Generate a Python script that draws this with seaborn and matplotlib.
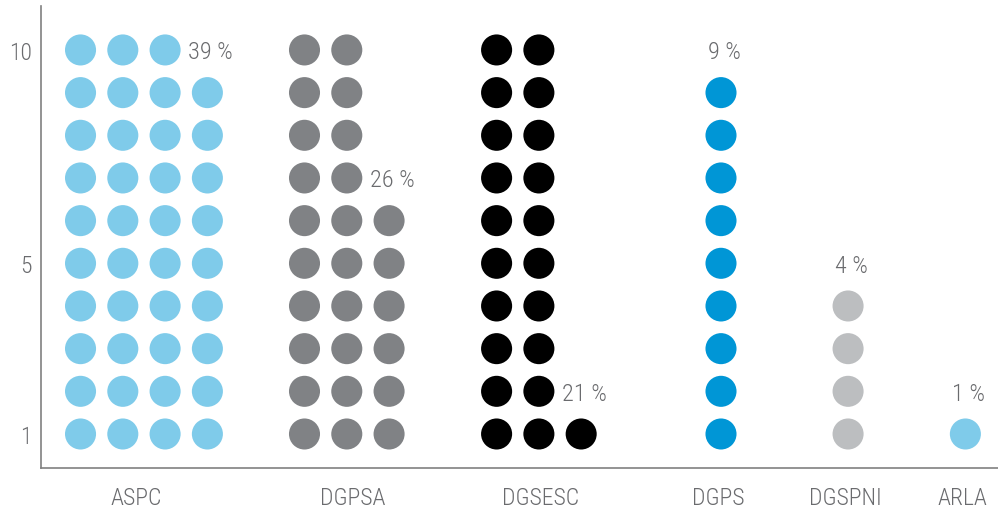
import matplotlib
matplotlib.use("Agg")
import matplotlib.pyplot as plt
import seaborn as sns
import pandas as pd

# ---- data ----
categories = ["ASPC", "DGPSA", "DGSESC", "DGPS", "DGSPNI", "ARLA"]
counts = [39, 26, 21, 9, 4, 1]
pct_labels = ["39 %", "26 %", "21 %", "9 %", "4 %", "1 %"]
y_ticks = [1, 5, 10]

# ---- layout / style ----
group_start = [0.93, 6.20, 10.72, 16.0, 18.99, 21.75]   # x of first dot column
tick_pos = [2.25, 7.34, 11.76, 15.93, 18.93, 21.68]      # category label x
col_step = 0.995
per_col = 10
colors = {"ASPC": "#7fcbea", "DGPSA": "#808285", "DGSESC": "#000000",
          "DGPS": "#0096d6", "DGSPNI": "#bcbec0", "ARLA": "#7fcbea"}
text_color = "#6a6b6e"

rows = []
label_xy = []
for cat, n, x0 in zip(categories, counts, group_start):
    for i in range(n):
        col, row = divmod(i, per_col)
        rows.append({"category": cat, "x": x0 + col * col_step, "y": row + 1})
    col, row = divmod(n, per_col)
    label_xy.append((x0 + col * col_step + 0.08, row + 1))
df = pd.DataFrame(rows)

sns.set_theme(style="white")
plt.rcParams["font.family"] = ["Roboto Condensed", "Liberation Sans Narrow", "Roboto", "DejaVu Sans"]
plt.rcParams["font.weight"] = "light"

fig = plt.figure(figsize=(9.98, 5.10), dpi=100)
ax = fig.add_axes([41 / 998, 41 / 510, 1 - 41 / 998, (469 - 7) / 510])

sns.scatterplot(data=df, x="x", y="y", hue="category", palette=colors,
                s=500, linewidth=0, legend=False, ax=ax)

for (lx, ly), txt in zip(label_xy, pct_labels):
    ax.text(lx, ly - 0.04, txt, ha="center", va="center", fontsize=17.5,
            color=text_color, fontweight="light")

ax.set_xlim(0, (998 - 41) / 42.5)
ax.set_ylim(0.203, 11.03)
ax.set_xticks(tick_pos)
ax.set_xticklabels(categories, fontweight="light")
ax.set_yticks(y_ticks)
ax.set_yticklabels([str(v) for v in y_ticks], fontweight="light")
ax.set_xlabel("")
ax.set_ylabel("")
ax.tick_params(axis="x", length=0, pad=13, labelsize=17, labelcolor=text_color)
ax.tick_params(axis="y", length=0, pad=6.5, labelsize=17, labelcolor=text_color)
for side in ["top", "right"]:
    ax.spines[side].set_visible(False)
for side in ["left", "bottom"]:
    ax.spines[side].set_color("#808080")
    ax.spines[side].set_linewidth(1.2)
ax.grid(False)
ax.set_facecolor("white")

fig.savefig("out.png", dpi=100, facecolor="white")
